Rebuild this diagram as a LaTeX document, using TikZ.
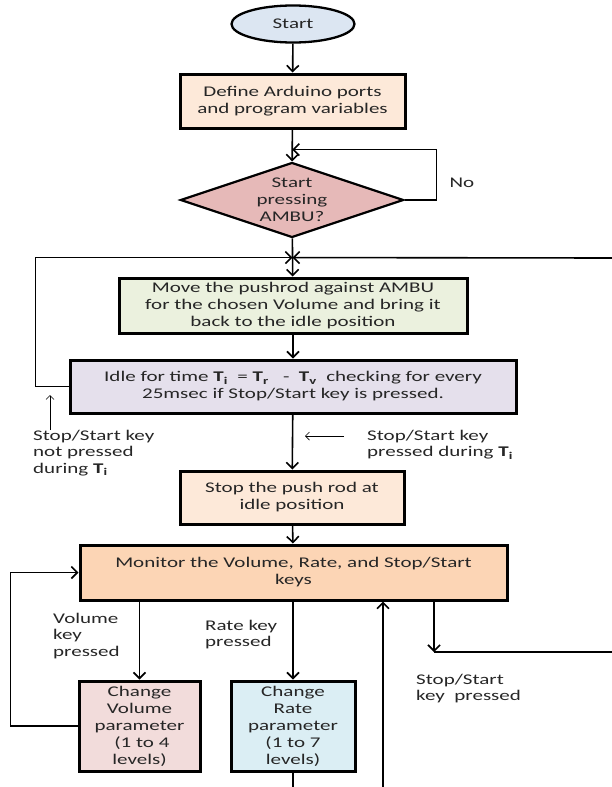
\documentclass[tikz,border=0pt]{standalone}
\usepackage{fontspec}
\setmainfont{Carlito}[FakeStretch=1.42]
\usepackage{tikz}
\usetikzlibrary{%
	arrows.meta,%
	calc,%
	shapes.geometric
}
\definecolor{startfill}{HTML}{DCE6F2}
\definecolor{definefill}{HTML}{FDE9D9}
\definecolor{pressfill}{HTML}{E6B9B8}
\definecolor{movefill}{HTML}{EBF1DE}
\definecolor{idlefill}{HTML}{E5E0EC}
\definecolor{monitorfill}{HTML}{FCD5B5}
\definecolor{volumefill}{HTML}{F2DCDB}
\definecolor{ratefill}{HTML}{DBEEF4}

\begin{document}
\begin{tikzpicture}[x=1pt, y=-1pt,
		every node/.style={font=\fontsize{14.8}{17}\selectfont, text=black!85},
		box/.style={draw, rectangle, line width=3pt, align=center, inner sep=0pt},
		note/.style={align=left, inner sep=0pt, font=\fontsize{14.8}{16.5}\selectfont},
		line/.style={line width=1.6pt},
		arr/.style={line, -{Straight Barb[length=6pt,width=12pt]}},
		hint/.style={line width=0.7pt, -{Straight Barb[length=4pt,width=8pt]}}]

			\useasboundingbox (0,0) rectangle (612,787);

			\node[ellipse, draw, line width=2.3pt, fill=startfill, minimum width=123pt, minimum height=37pt, inner sep=0pt] (start) at (293,24) {Start};
			\node[box, fill=definefill, minimum width=225pt, minimum height=54pt] (define) at (292.5,101) {Define Arduino ports\\and program variables};
			\node[diamond, draw, line width=2.2pt, fill=pressfill, aspect=3, minimum width=223pt, minimum height=75pt, inner sep=0pt, align=center] (press) at (292,200) {Start\\pressing\\AMBU?};
			\node[box, fill=movefill, minimum width=348pt, minimum height=55pt] (move) at (293,305.5) {Move the pushrod against AMBU\\for the chosen Volume and bring it\\back to the idle position};
			\node[box, fill=idlefill, minimum width=446pt, minimum height=53pt] (idle) at (293,386.5) {Idle for time \textbf{T}\textsubscript{\textbf{i}}\ \ = \textbf{T}\textsubscript{\textbf{r}}\ \ \ - \ \textbf{T}\textsubscript{\textbf{v}}\ \ checking for every\\25msec if Stop/Start key is pressed.};
			\node[box, fill=definefill, minimum width=224pt, minimum height=53pt] (stop) at (292,497.5) {Stop the push rod at\\idle position};
			\node[box, fill=monitorfill, minimum width=427pt, minimum height=55pt] (monitor) at (293.5,572.5) {Monitor the Volume, Rate, and Stop/Start\\keys};
			\node[box, fill=volumefill, minimum width=121pt, minimum height=90pt] (volume) at (139.5,726) {Change\\Volume\\parameter\\\ (1 to 4\\levels)};
			\node[box, fill=ratefill, minimum width=124pt, minimum height=90pt] (rate) at (293,726) {Change\\Rate\\parameter\\(1 to 7\\levels)};

			\coordinate (jn) at ($(press.south)!.5!(move.north)$);
			\coordinate (fromright) at (612,258);
			\coordinate (loopin) at (383,787);
			\coordinate (sskey) at (434,652);
			\coordinate (toright) at (612,652);
			\coordinate (hintup) at (50,430);
			\coordinate (hintleft) at (344,436);

			\draw[arr] (start) -- (define);
			\draw[arr] (define) -- (press);
			\draw[arr] (press.east) -- ++(32,0) |- ($(define.south)!.63!(press.north)$);
			\draw[arr] (press) -- (move);
			\draw[arr] (idle.west) -- ++(-33,0) |- (jn);
			\draw[arr] (fromright) -- (jn);
			\draw[arr] (move) -- (idle);
			\draw[arr] (idle) -- (stop);
			\draw[arr] (stop) -- (monitor);

			\draw[hint] (hintup) -- ++(0,-35);
			\draw[hint] (hintleft) -- ++(-39,0);

			\draw[arr] (volume.west) -- ++(-67,0) |- (monitor.west);
			\draw[arr] (volume.north |- monitor.south) -- (volume.north);
			\draw[arr] (rate.north |- monitor.south) -- (rate.north);
			\draw[arr] (loopin) -- (loopin |- monitor.south);
			\draw[arr] (sskey |- monitor.south) -- (sskey);
			\draw[line] (sskey) -- (toright);
			\draw[line] (rate.south) -- ++(0,16);

			\node[anchor=west] (no) at (446,183) {No};
			\node[note, anchor=north west] (notpressed) at (33,430) {Stop/Start key\\not pressed\\during \textbf{T}\textsubscript{\textbf{i}}};
			\node[note, anchor=north west] (pressedti) at (367,430) {Stop/Start key\\pressed during \textbf{T}\textsubscript{\textbf{i}}};
			\node[note, anchor=north west] (volkey) at (53,613) {Volume\\key\\pressed};
			\node[note, anchor=north west] (ratekey) at (205,620) {Rate key\\pressed};
			\node[note, anchor=north west] (sspressed) at (416,674) {Stop/Start\\key~ pressed};
		\end{tikzpicture}
\end{document}
